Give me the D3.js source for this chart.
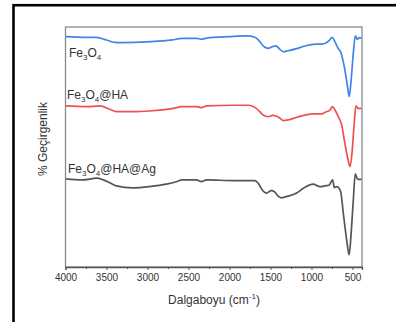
<!DOCTYPE html>
<html><head><meta charset="utf-8">
<script src="https://cdn.jsdelivr.net/npm/d3@7"></script>
<style>html,body{margin:0;padding:0;background:#fff;}svg{display:block;}</style>
</head><body>
<script>
// Wavenumbers (cm^-1) and transmittance (arbitrary, offset) for each spectrum
const wnFe3O4 = [4000,3740,3620,3500,3400,3300,3000,2700,2580,2400,2340,2280,2000,1790,1690,1630,1590,1530,1475,1435,1385,1345,1290,1180,1080,980,880,830,785,750,715,675,645,600,560,540,520,490,466,441,417,388];
const tFe3O4  = [96.0,95.7,95.7,94.6,93.6,93.5,93.8,94.6,95.3,95.3,94.9,95.4,96.0,96.3,95.7,93.9,92.1,91.1,91.8,92.1,90.7,89.7,90.1,91.0,92.1,92.8,92.9,93.2,94.3,95.7,93.9,91.1,89.7,83.5,75.1,71.0,76.5,89.0,96.3,94.9,95.6,95.3];

const wnHA = [4000,3740,3580,3460,3380,3180,2975,2685,2580,2400,2345,2280,1950,1770,1690,1630,1590,1527,1473,1433,1384,1344,1283,1180,1079,978,876,827,775,746,713,673,632,600,558,530,506,482,458,429,388];
const tHA  = [67.1,66.8,67.1,65.7,64.7,64.7,65.0,66.1,66.8,66.8,66.4,67.1,67.4,67.4,66.5,64.7,63.3,62.6,63.2,62.9,62.0,61.0,61.3,62.4,63.3,63.8,63.8,64.6,65.4,66.8,65.4,62.6,59.2,52.9,45.3,41.8,47.4,58.5,67.1,66.1,66.1];

const wnAg = [4000,3790,3620,3540,3460,3380,3180,2975,2770,2650,2580,2400,2345,2280,1950,1690,1650,1600,1550,1490,1450,1410,1370,1310,1180,1100,978,896,835,783,742,722,693,673,644,612,571,541,518,490,466,440,410,388];
const tAg  = [36.7,36.3,37.0,36.3,35.1,33.8,33.0,33.5,34.5,35.5,36.3,36.3,35.6,36.3,36.0,36.0,34.9,32.1,30.8,31.8,31.3,29.6,28.8,29.3,30.8,32.8,34.5,33.5,33.8,34.2,36.3,33.1,33.5,33.2,31.4,22.4,11.3,5.0,13.3,27.9,38.8,36.7,36.5,36.7];

const xTicks = [4000,3500,3000,2500,2000,1500,1000,500];
const xMinorTicks = [3750,3250,2750,2250,1750,1250,750];

const seriesNames = ["Fe3O4","Fe3O4@HA","Fe3O4@HA@Ag"];
const seriesColors = ["#4284ea","#ee5050","#555555"];

const W = 396, H = 322;
const svg = d3.select("body").append("svg").attr("width", W).attr("height", H);

// outer black frame
svg.append("rect").attr("x", 13.5).attr("y", 5.2).attr("width", 400).attr("height", 400)
  .attr("fill", "none").attr("stroke", "#000").attr("stroke-width", 2.6);

const L = 65.5, R = 362, T = 27, B = 267;
const x = d3.scaleLinear().domain([4000, 384]).range([L, R]);
const y = d3.scaleLinear().domain([0, 100]).range([B, T]);

const series = [
  {wn: wnFe3O4, t: tFe3O4},
  {wn: wnHA, t: tHA},
  {wn: wnAg, t: tAg}
];

const line = d3.line().x(d => x(d[0])).y(d => y(d[1])).curve(d3.curveMonotoneX);

series.forEach((s, i) => {
  const pts = s.wn.map((w, k) => [w, s.t[k]]).sort((a,b) => b[0]-a[0]);
  svg.append("path").datum(pts).attr("d", line)
    .attr("fill", "none").attr("stroke", seriesColors[i]).attr("stroke-width", 1.7)
    .attr("stroke-linejoin", "round");
});

// plot frame
svg.append("rect").attr("x", L).attr("y", T).attr("width", R - L).attr("height", B - T)
  .attr("fill", "none").attr("stroke", "#8a8a8a").attr("stroke-width", 1.3);

// bottom axis
const axis = svg.append("g").attr("transform", `translate(0,${B})`)
  .call(d3.axisBottom(x).tickValues(xTicks).tickSize(3).tickPadding(4).tickFormat(d3.format("d")));
axis.select(".domain").attr("stroke", "#555").attr("stroke-width", 1.3);
axis.selectAll(".tick line").attr("stroke", "#555");
axis.selectAll("text").attr("font-family", "Liberation Sans, Arial, sans-serif").attr("font-size", 10).attr("fill", "#333");
const minor = svg.append("g").attr("transform", `translate(0,${B})`)
  .call(d3.axisBottom(x).tickValues(xMinorTicks).tickSize(2).tickFormat(""));
minor.select(".domain").remove();
minor.selectAll(".tick line").attr("stroke", "#555");

const font = "Liberation Sans, Arial, sans-serif";

// axis titles
const xt = svg.append("text").attr("x", 214).attr("y", 304).attr("text-anchor", "middle")
  .attr("font-family", font).attr("font-size", 12).attr("fill", "#333");
xt.append("tspan").text("Dalgaboyu (cm");
xt.append("tspan").attr("font-size", 8).attr("dy", -5).text("-1");
xt.append("tspan").attr("dy", 5).text(")");

svg.append("text").attr("transform", "translate(47,139) rotate(-90)").attr("text-anchor", "middle")
  .attr("font-family", font).attr("font-size", 12).attr("fill", "#333").text("% Geçirgenlik");

// series labels with subscripts
const labelPos = [[69, 57], [67, 99], [68, 172.5]];
function chem(g, name) {
  const parts = name.match(/[A-Za-z@]+|\d+/g);
  let sub = false;
  parts.forEach(p => {
    if (/^\d+$/.test(p)) {
      g.append("tspan").attr("font-size", 8).attr("dy", sub ? 0 : 3).text(p);
      sub = true;
    } else {
      g.append("tspan").attr("dy", sub ? -3 : 0).text(p);
      sub = false;
    }
  });
}
seriesNames.forEach((n, i) => {
  const t = svg.append("text").attr("x", labelPos[i][0]).attr("y", labelPos[i][1])
    .attr("font-family", font).attr("font-size", 12).attr("fill", "#333");
  chem(t, n);
});
</script>
</body></html>
